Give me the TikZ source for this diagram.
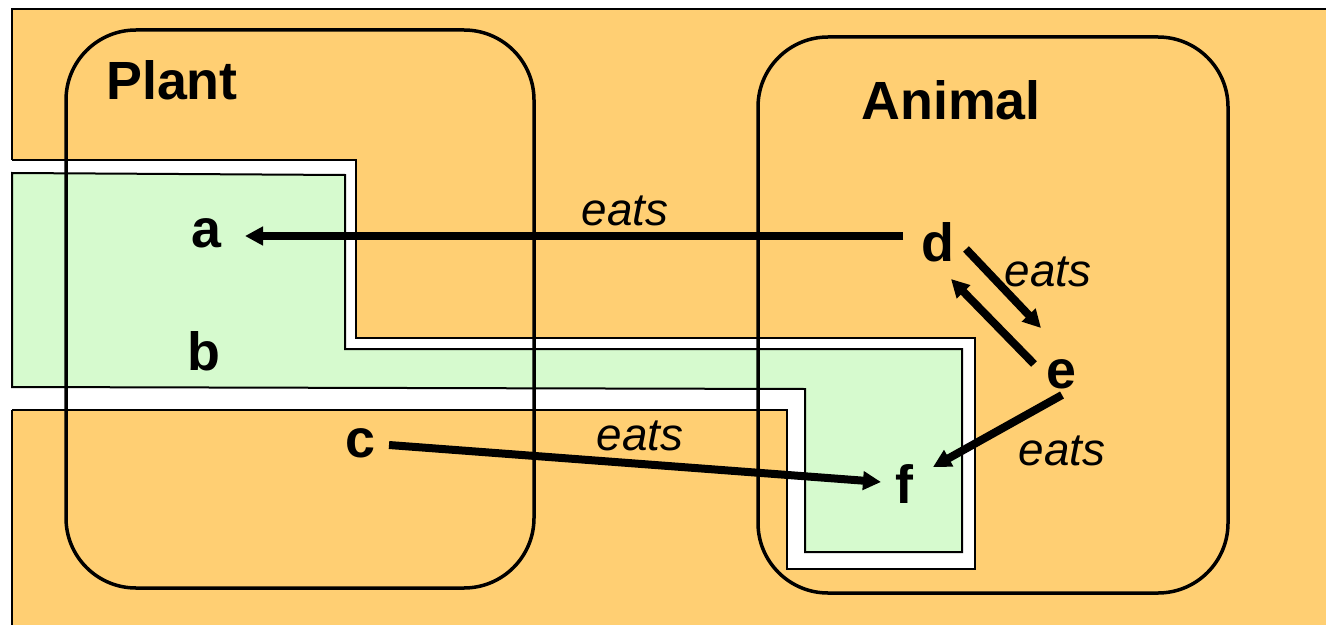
\documentclass[tikz,border=0pt]{standalone}
\usepackage{fontspec}
\setmainfont{Liberation Sans}
\usetikzlibrary{arrows.meta}
\definecolor{bgorange}{HTML}{FFCF73}
\definecolor{lightgreen}{HTML}{D6FACE}
\begin{document}
\begin{tikzpicture}[x=1bp,y=-1bp,
  lbl/.style={font=\fontsize{54}{60}\selectfont\bfseries, inner sep=0pt, anchor=base},
  eatslbl/.style={font=\fontsize{46}{54}\selectfont\itshape, inner sep=0pt, anchor=base},
  arr/.style={line width=8bp, -{Triangle[length=18bp,width=18bp]}},
  setbox/.style={line width=3.5bp, rounded corners=70bp},
  region/.style={line width=2bp}]
\useasboundingbox (0,0) rectangle (1326,625);
\fill[white] (0,0) rectangle (1326,625);
\fill[bgorange] (12,9) rectangle (1326,625);
\draw[region] (12,160) -- (12,9) -- (1326,9);
\draw[region] (12,410) -- (12,625);
\path[region, draw, fill=white] (12,160) -- (356,160) -- (356,338) -- (975,338) -- (975,569) -- (787,569) -- (787,410) -- (12,410);
\draw[region, fill=lightgreen] (12,173) -- (345,175) -- (345,349) -- (962,349) -- (962,552) -- (805,552) -- (805,389) -- (12,387) -- cycle;
\draw[setbox] (66,30) rectangle (534,588);
\draw[setbox] (758,37) rectangle (1228,593);
\node[lbl] (plant) at (172,100) {Plant};
\node[lbl] (animal) at (951,120) {Animal};
\node[lbl] (a) at (206,247) {a};
\node[lbl] (b) at (204,370) {b};
\node[lbl] (c) at (360,457) {c};
\node[lbl] (d) at (938,261) {d};
\node[lbl] (e) at (1061,388) {e};
\node[lbl] (f) at (904,503) {f};
\node[eatslbl] (l1) at (625,225) {eats};
\node[eatslbl] (l2) at (640,450) {eats};
\node[eatslbl] (l3) at (1048,286) {eats};
\node[eatslbl] (l4) at (1062,465) {eats};
\draw[arr] ([shift={(-35,-25)}]d.base) -- ([shift={(39,-11)}]a.base);
\draw[arr] ([shift={(29,-12)}]c.base) -- ([shift={(-23,-21)}]f.base);
\draw[arr] ([shift={(28,-12)}]d.base) -- ([shift={(-20,-60)}]e.base);
\draw[arr] ([shift={(-27,-24)}]e.base) -- ([shift={(13,18)}]d.base);
\draw[arr] ([shift={(1,7)}]e.base) -- ([shift={(29,-36)}]f.base);
\end{tikzpicture}
\end{document}
